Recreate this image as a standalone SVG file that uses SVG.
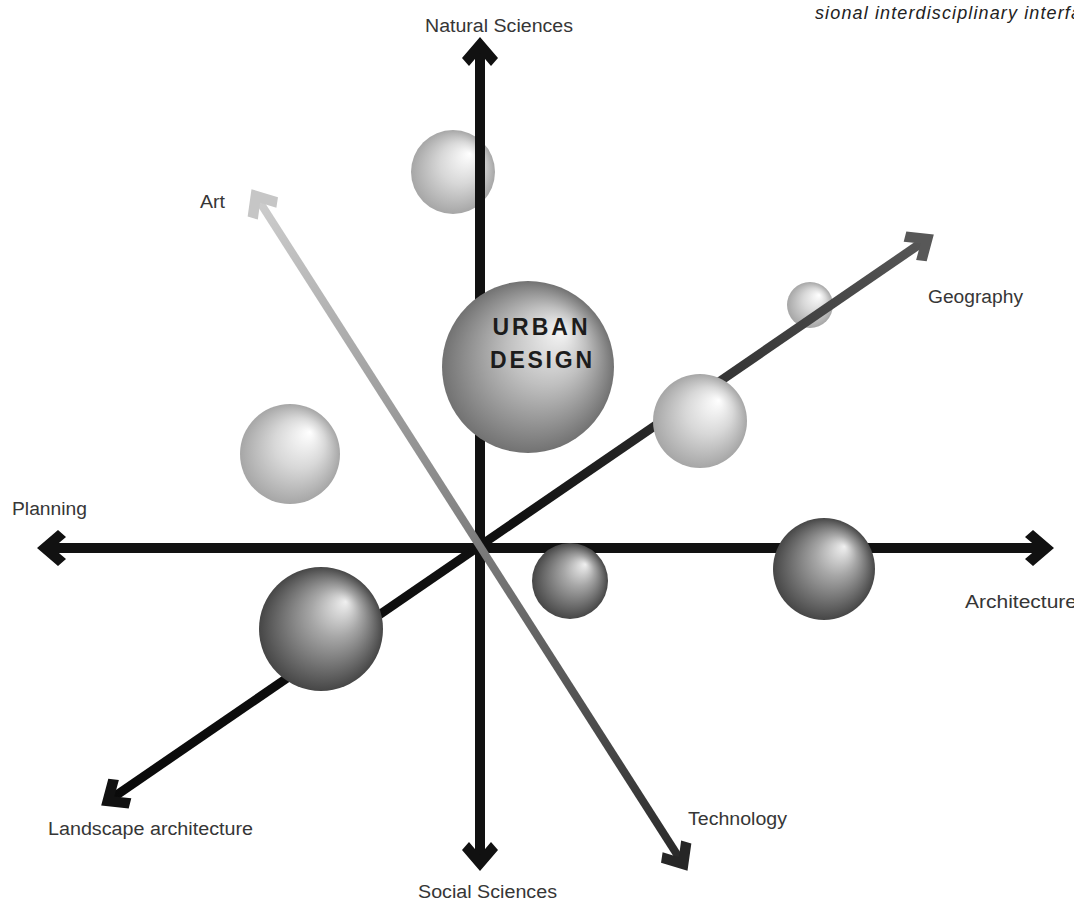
<svg xmlns="http://www.w3.org/2000/svg" width="1074" height="907" viewBox="0 0 1074 907">
<style>
.lbl{font-family:"Liberation Sans",Arial,sans-serif;font-size:18px;fill:#363636;}
.cap{font-family:"Liberation Sans",Arial,sans-serif;font-size:18px;font-style:italic;fill:#222;}
.ud{font-family:"Liberation Sans",Arial,sans-serif;font-size:23px;font-weight:bold;fill:#1c1c1c;text-anchor:middle;}
.axis{fill:none;stroke-linecap:butt;}
</style>
<defs>
<radialGradient id="sphLight" cx="50%" cy="50%" r="50%" fx="70%" fy="28%">
<stop offset="0" stop-color="#ffffff"/>
<stop offset="0.5" stop-color="#d8d8d8"/>
<stop offset="1" stop-color="#a6a6a6"/>
</radialGradient>
<radialGradient id="sphMid" cx="50%" cy="50%" r="50%" fx="70%" fy="28%">
<stop offset="0" stop-color="#f6f6f6"/>
<stop offset="0.45" stop-color="#c0c0c0"/>
<stop offset="1" stop-color="#727272"/>
</radialGradient>
<radialGradient id="sphDark" cx="50%" cy="50%" r="50%" fx="70%" fy="28%">
<stop offset="0" stop-color="#f0f0f0"/>
<stop offset="0.4" stop-color="#a6a6a6"/>
<stop offset="1" stop-color="#464646"/>
</radialGradient>
<linearGradient id="gArt" gradientUnits="userSpaceOnUse" x1="252" y1="190" x2="687" y2="870">
<stop offset="0" stop-color="#cfcfcf"/>
<stop offset="0.5" stop-color="#808080"/>
<stop offset="1" stop-color="#262626"/>
</linearGradient>
<linearGradient id="gGeo" gradientUnits="userSpaceOnUse" x1="102" y1="805" x2="933" y2="235">
<stop offset="0" stop-color="#0a0a0a"/>
<stop offset="0.5" stop-color="#111111"/>
<stop offset="1" stop-color="#585858"/>
</linearGradient>
<marker id="mBlack" markerUnits="userSpaceOnUse" markerWidth="40" markerHeight="40" refX="18" refY="20" orient="auto-start-reverse" overflow="visible">
<path d="M31,20 L10,2 L2,9 L15,20 L2,31 L10,38 Z" fill="#111"/>
</marker>
<marker id="mArt" markerUnits="userSpaceOnUse" markerWidth="40" markerHeight="40" refX="18" refY="20" orient="auto-start-reverse" overflow="visible">
<path d="M31,20 L10,2 L2,9 L15,20 L2,31 L10,38 Z" fill="#c6c6c6"/>
</marker>
<marker id="mTech" markerUnits="userSpaceOnUse" markerWidth="40" markerHeight="40" refX="18" refY="20" orient="auto-start-reverse" overflow="visible">
<path d="M31,20 L10,2 L2,9 L15,20 L2,31 L10,38 Z" fill="#262626"/>
</marker>
<marker id="mGeo" markerUnits="userSpaceOnUse" markerWidth="40" markerHeight="40" refX="18" refY="20" orient="auto-start-reverse" overflow="visible">
<path d="M31,20 L10,2 L2,9 L15,20 L2,31 L10,38 Z" fill="#585858"/>
</marker>
</defs>
<rect width="1074" height="907" fill="#ffffff"/>
<text class="cap" x="815" y="19" textLength="266" lengthAdjust="spacing">sional interdisciplinary interfa</text>

<g id="sphere-geo-small"><circle cx="810" cy="305" r="23" fill="url(#sphLight)"/></g>
<g id="sphere-top"><circle cx="453" cy="172" r="42" fill="url(#sphLight)"/></g>

<g id="connectors">
<line class="axis" x1="480" y1="50" x2="480" y2="858" stroke="#111" stroke-width="10" marker-start="url(#mBlack)" marker-end="url(#mBlack)"/>
<line class="axis" x1="50" y1="548" x2="1041" y2="548" stroke="#111" stroke-width="10" marker-start="url(#mBlack)" marker-end="url(#mBlack)"/>
<line class="axis" x1="111.9" y1="798.2" x2="923.1" y2="241.8" stroke="url(#gGeo)" stroke-width="9" marker-start="url(#mBlack)" marker-end="url(#mGeo)"/>
<line class="axis" x1="258.5" y1="200.1" x2="680.5" y2="859.9" stroke="url(#gArt)" stroke-width="8" marker-start="url(#mArt)" marker-end="url(#mTech)"/>
</g>

<g id="sphere-urban-design">
<circle cx="528" cy="367" r="86" fill="url(#sphMid)"/>
<text class="ud" x="540" y="335" textLength="95" lengthAdjust="spacing">URBAN</text>
<text class="ud" x="541" y="368" textLength="102" lengthAdjust="spacing">DESIGN</text>
</g>
<g id="sphere-geo-mid"><circle cx="700" cy="421" r="47" fill="url(#sphLight)"/></g>
<g id="sphere-left"><circle cx="290" cy="454" r="50" fill="url(#sphLight)"/></g>
<g id="sphere-small"><circle cx="570" cy="581" r="38" fill="url(#sphDark)"/></g>
<g id="sphere-right"><circle cx="824" cy="569" r="51" fill="url(#sphDark)"/></g>
<g id="sphere-landscape"><circle cx="321" cy="629" r="62" fill="url(#sphDark)"/></g>

<g id="labels">
<text class="lbl" x="425" y="32" textLength="148" lengthAdjust="spacingAndGlyphs">Natural Sciences</text>
<text class="lbl" x="200" y="208" textLength="25" lengthAdjust="spacingAndGlyphs">Art</text>
<text class="lbl" x="928" y="303" textLength="95" lengthAdjust="spacingAndGlyphs">Geography</text>
<text class="lbl" x="12" y="515" textLength="75" lengthAdjust="spacingAndGlyphs">Planning</text>
<text class="lbl" x="965" y="608" textLength="112" lengthAdjust="spacingAndGlyphs">Architecture</text>
<text class="lbl" x="48" y="835" textLength="205" lengthAdjust="spacingAndGlyphs">Landscape architecture</text>
<text class="lbl" x="688" y="825" textLength="99" lengthAdjust="spacingAndGlyphs">Technology</text>
<text class="lbl" x="418" y="898" textLength="139" lengthAdjust="spacingAndGlyphs">Social Sciences</text>
</g>
</svg>
